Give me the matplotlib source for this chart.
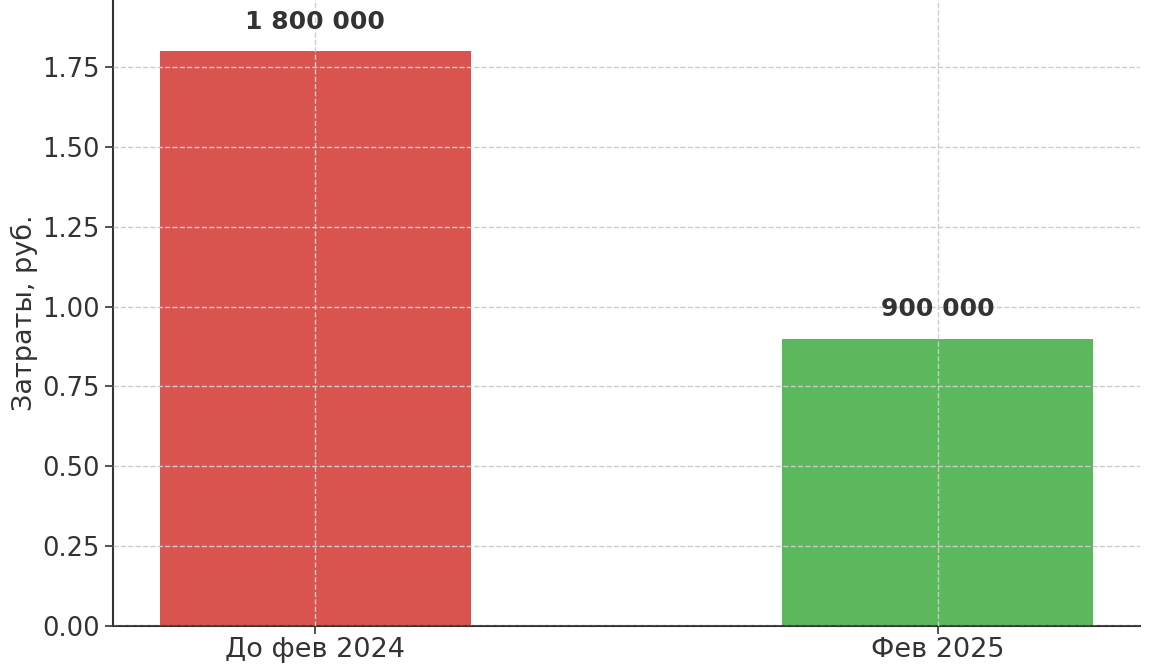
import matplotlib
matplotlib.use("Agg")
import matplotlib.pyplot as plt
from matplotlib.ticker import FuncFormatter

plt.rcParams["font.family"] = ["DejaVu Sans"]

# Data
periods = ["До фев 2024", "Фев 2025"]
costs = [1800000, 900000]
labels = ["1 800 000", "900 000"]
colors = ["#d9534f", "#5cb85c"]

fig = plt.figure(figsize=(11.52, 6.66), dpi=100)
ax = fig.add_axes([113 / 1152, 40 / 666, (1140 - 113) / 1152, 626 / 666])

ax.bar(range(len(periods)), costs, width=0.5, color=colors)
ax.set_xticks(range(len(periods)))
ax.set_xticklabels(periods)
ax.set_ylim(0, 1.96e6)
ax.set_yticks([i * 0.25e6 for i in range(8)])
ax.yaxis.set_major_formatter(FuncFormatter(lambda v, p: f"{v / 1e6:.2f}"))

for i, (v, lab) in enumerate(zip(costs, labels)):
    ax.text(i, v + 0.055e6, lab, ha="center", va="bottom",
            fontsize=18, fontweight="bold", color="#333333")

ax.set_ylabel("Затраты, руб.", fontsize=19.5, color="#333333", labelpad=3)
ax.tick_params(axis="y", labelsize=18.5, colors="#333333", length=6, width=1.2)
ax.tick_params(axis="x", labelsize=19.5, colors="#333333", length=6, width=1.2, pad=2)
ax.grid(True, linestyle="--", color="#cccccc", linewidth=1)
ax.set_axisbelow(False)
for s in ["top", "right"]:
    ax.spines[s].set_visible(False)
for s in ["left", "bottom"]:
    ax.spines[s].set_color("#333333")
    ax.spines[s].set_linewidth(1.5)

fig.savefig("out.png", dpi=100)
